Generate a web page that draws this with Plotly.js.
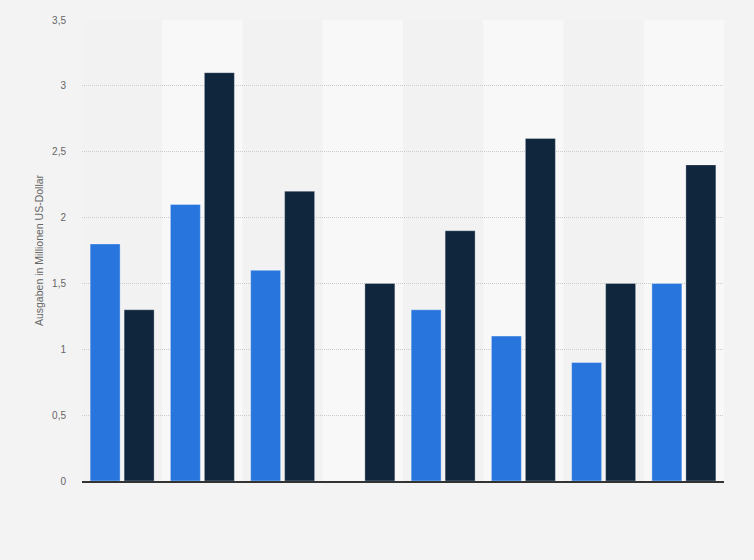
<!DOCTYPE html>
<html>
<head>
<meta charset="utf-8">
<script src="https://cdn.plot.ly/plotly-3.0.1.min.js"></script>
<style>
  html, body { margin: 0; padding: 0; background: #f3f3f3; }
  #chart { width: 754px; height: 560px; }
</style>
</head>
<body>
<div id="chart"></div>
<script>
const categories = ["1", "2", "3", "4", "5", "6", "7", "8"];
const seriesBlue = [1.8, 2.1, 1.6, null, 1.3, 1.1, 0.9, 1.5];
const seriesDark = [1.3, 3.1, 2.2, 1.5, 1.9, 2.6, 1.5, 2.4];
const yTickVals = [0, 0.5, 1, 1.5, 2, 2.5, 3, 3.5];
const yTickText = ["0", "0,5", "1", "1,5", "2", "2,5", "3", "3,5"];
const yTitle = "Ausgaben in Millionen US-Dollar";

const traces = [
  {
    type: "bar", x: categories, y: seriesBlue, name: "A",
    marker: { color: "#2876dd", line: { color: "rgba(255,255,255,0.35)", width: 1 } },
    hoverinfo: "y"
  },
  {
    type: "bar", x: categories, y: seriesDark, name: "B",
    marker: { color: "#0f263d", line: { color: "rgba(255,255,255,0.3)", width: 1 } },
    hoverinfo: "y"
  }
];

const shapes = categories.map((c, i) => i % 2 === 1 ? {
  type: "rect", layer: "below", xref: "x", yref: "paper",
  x0: i - 0.5, x1: i + 0.5, y0: 0, y1: 1,
  fillcolor: "#f8f8f8", line: { width: 0 }
} : null).filter(Boolean);

const layout = {
  width: 754, height: 560,
  paper_bgcolor: "#f3f3f3",
  plot_bgcolor: "#f2f2f2",
  margin: { l: 82, r: 30, t: 20, b: 79 },
  barmode: "group",
  bargap: 0.153,
  bargroupgap: 0.118,
  showlegend: false,
  font: { family: "Liberation Sans, Arial, sans-serif", color: "#666" },
  xaxis: {
    type: "category",
    showticklabels: false,
    showgrid: false,
    zeroline: false,
    showline: true, linecolor: "#333", linewidth: 1.5,
    ticks: "",
    fixedrange: true
  },
  yaxis: {
    range: [0, 3.5],
    tickvals: yTickVals, ticktext: yTickText,
    showgrid: true, gridcolor: "#cccccc", griddash: "1px,1px", gridwidth: 1,
    zeroline: false,
    showline: false,
    ticks: "outside", ticklen: 13, tickcolor: "rgba(0,0,0,0)",
    tickfont: { size: 10, color: "#666" },
    title: { text: yTitle, font: { size: 10.5, color: "#666" }, standoff: 6 },
    fixedrange: true
  },
  shapes: shapes
};

Plotly.newPlot("chart", traces, layout, { displayModeBar: false, staticPlot: true });
</script>
</body>
</html>
